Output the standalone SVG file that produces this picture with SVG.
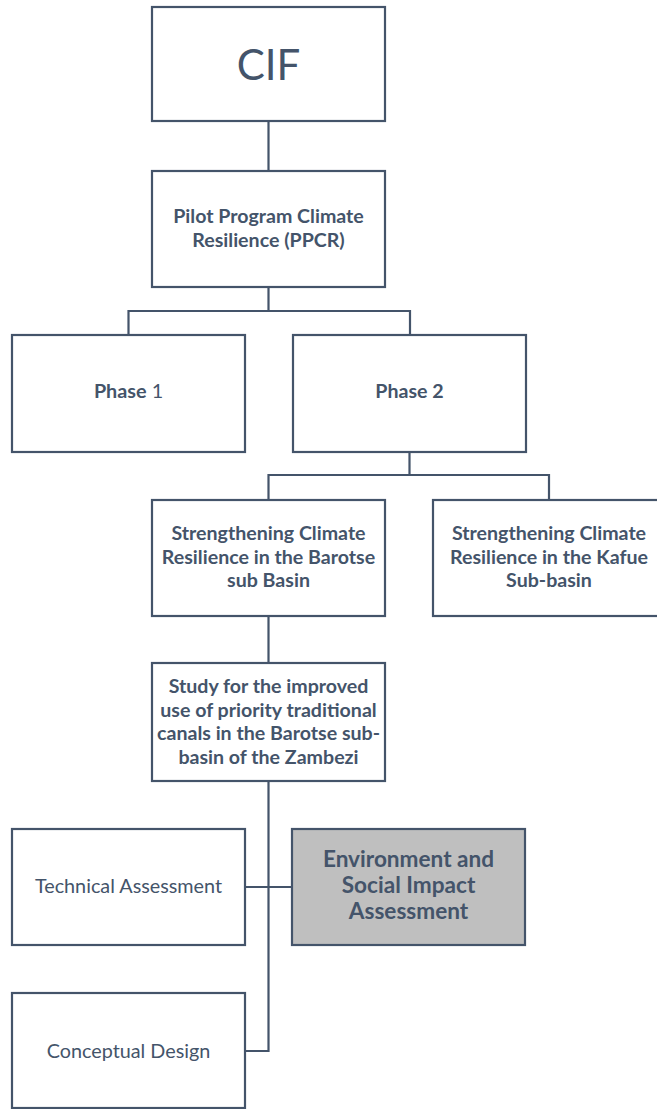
<svg xmlns="http://www.w3.org/2000/svg" width="657" height="1109" viewBox="0 0 657 1109">
<style>
.box{fill:#ffffff;stroke:#44546a;stroke-width:2.2}
.gray{fill:#bfbfbf}
.conn{fill:none;stroke:#44546a;stroke-width:2.2}
text{font-family:Lato,"Liberation Sans",sans-serif;fill:#44546a;text-anchor:middle}
.b{font-weight:bold;font-size:19.6px}
.r{font-size:19.8px}
.big{font-size:42px}
.e{font-weight:bold;font-size:22.6px}
</style>
<rect width="657" height="1109" fill="#ffffff"/>
<g id="connectors">
<path class="conn" d="M268.5 121V171"/>
<path class="conn" d="M268.5 287V311M128.5 335V311H410V335"/>
<path class="conn" d="M409.5 452V475M268.5 500V475H549V500"/>
<path class="conn" d="M268.5 616V663"/>
<path class="conn" d="M268.5 781V1051H245M245 887H292"/>
</g>
<g id="cif"><rect class="box" x="152" y="7" width="233" height="114"/><text class="big" x="268.5" y="80">CIF</text></g>
<g id="ppcr"><rect class="box" x="152" y="171" width="233" height="116"/><text class="b" x="268.5" y="223">Pilot Program Climate</text><text class="b" x="268.5" y="247">Resilience (PPCR)</text></g>
<g id="phase1"><rect class="box" x="12" y="335" width="233" height="117"/><text x="128.5" y="398" class="r"><tspan font-weight="bold">Phase</tspan> 1</text></g>
<g id="phase2"><rect class="box" x="293" y="335" width="233" height="117"/><text class="b" x="409.5" y="398">Phase 2</text></g>
<g id="barotse"><rect class="box" x="152" y="500" width="233" height="116"/><text class="b" x="268.5" y="540">Strengthening Climate</text><text class="b" x="268.5" y="563.5">Resilience in the Barotse</text><text class="b" x="268.5" y="587">sub Basin</text></g>
<g id="kafue"><rect class="box" x="433" y="500" width="233" height="116"/><text class="b" x="549" y="540">Strengthening Climate</text><text class="b" x="549" y="563.5">Resilience in the Kafue</text><text class="b" x="549" y="587">Sub-basin</text></g>
<g id="study"><rect class="box" x="152" y="663" width="233" height="118"/><text class="b" x="268.5" y="693">Study for the improved</text><text class="b" x="268.5" y="716.5">use of priority traditional</text><text class="b" x="268.5" y="740">canals in the Barotse sub-</text><text class="b" x="268.5" y="763.5">basin of the Zambezi</text></g>
<g id="technical"><rect class="box" x="12" y="829" width="233" height="116"/><text class="r" x="128.5" y="893">Technical Assessment</text></g>
<g id="esia"><rect class="box gray" x="292" y="829" width="233" height="116"/><text class="e" x="408.5" y="867">Environment and</text><text class="e" x="408.5" y="893">Social Impact</text><text class="e" x="408.5" y="919">Assessment</text></g>
<g id="conceptual"><rect class="box" x="12" y="993" width="233" height="115"/><text class="r" x="128.5" y="1058">Conceptual Design</text></g>
</svg>
